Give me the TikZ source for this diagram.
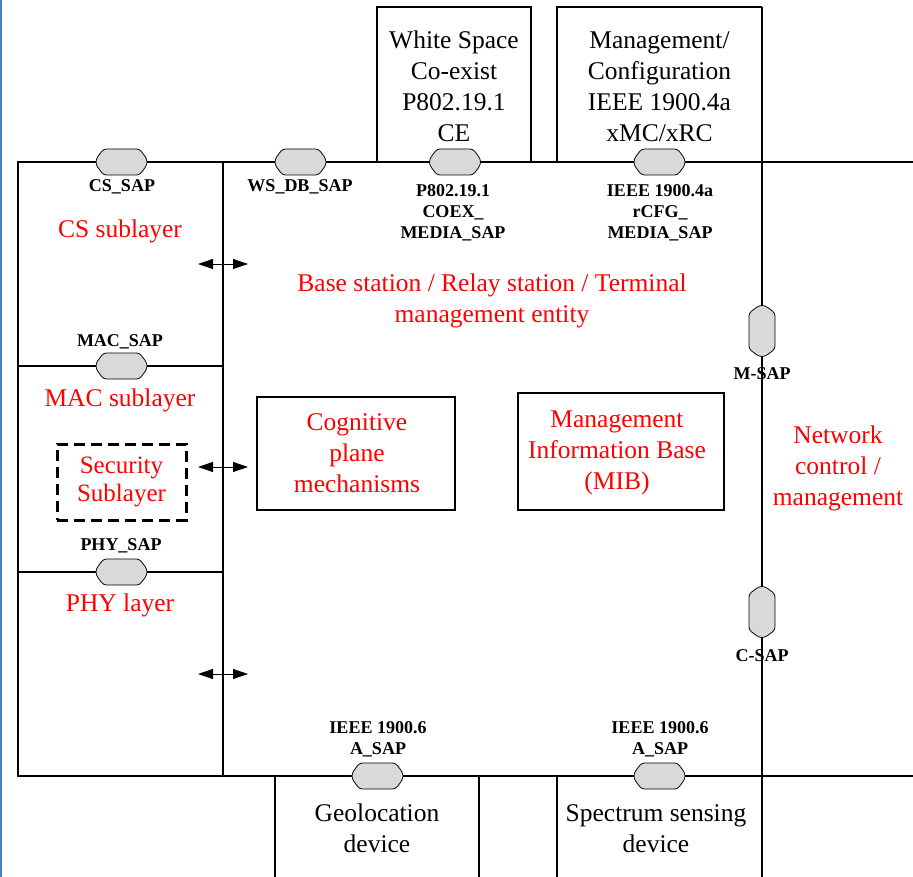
\documentclass[tikz,border=0pt]{standalone}
\usepackage{fontspec}
\setmainfont{Liberation Serif}
\usetikzlibrary{arrows.meta}
\definecolor{edgeblue}{RGB}{74,126,193}
\definecolor{sapgray}{RGB}{217,217,217}
\newcommand\sapH[2]{%
  \node[sapbox,minimum width=51pt,minimum height=26pt] (#1) at (#2) {};
  \draw[sapdraw,shift={(#2)}] (-25.5,-3) -- (-18,-13) -- (18,-13) -- (25.5,-3) -- (25.5,3) -- (18,13) -- (-18,13) -- (-25.5,3) -- cycle;}
\newcommand\sapV[2]{%
  \node[sapbox,minimum width=26pt,minimum height=51pt] (#1) at (#2) {};
  \draw[sapdraw,shift={(#2)}] (-3,-25.5) -- (-13,-18) -- (-13,18) -- (-3,25.5) -- (3,25.5) -- (13,18) -- (13,-18) -- (3,-25.5) -- cycle;}
\begin{document}
\begin{tikzpicture}[x=1pt,y=-1pt,
  frame/.style={draw=black,line width=1.1pt},
  box/.style={draw=black,line width=1.1pt,rectangle,inner sep=0pt},
  big/.style={font=\fontsize{25.5}{31}\selectfont,align=center,inner sep=0pt},
  redt/.style={big,text=red},
  saplbl/.style={font=\fontsize{18}{21}\selectfont\bfseries,align=center,inner sep=0pt},
  sapbox/.style={rectangle,draw=none,fill=none,inner sep=0pt},
  sapdraw/.style={fill=sapgray,draw=black,line width=0.8pt,rounded corners=3pt},
  biarrow/.style={line width=0.8pt,{Triangle[length=15pt,width=10pt]}-{Triangle[length=15pt,width=10pt]}}
]
\useasboundingbox (0,0) rectangle (913,877);
\fill[edgeblue] (0,0) rectangle (1.5,877);

% main frame
\draw[frame] (913,162) -- (18,162) -- (18,776) -- (913,776);
\draw[frame] (223,162) -- (223,776);
\draw[frame] (762,7) -- (762,877);
\draw[frame] (18,366) -- (223,366);
\draw[frame] (18,572) -- (223,572);

% top boxes
\draw[frame] (377,162) -- (377,7) -- (531,7) -- (531,162);
\draw[frame] (557,162) -- (557,7) -- (762,7);
\node[big] (ws) at (454,86.5) {White Space\\Co-exist\\P802.19.1\\CE};
\node[big] (mgmt) at (659.5,86.5) {Management/\\Configuration\\IEEE 1900.4a\\xMC/xRC};

% bottom boxes
\draw[frame] (275,877) -- (275,776);
\draw[frame] (479,877) -- (479,776);
\draw[frame] (557,877) -- (557,776);
\node[big] (geo) at (377,828.5) {Geolocation\\device};
\node[big] (spec) at (656,828.5) {Spectrum sensing\\device};

% SAPs
\sapH{cssap}{121.5,162}
\sapH{wssap}{300.5,162}
\sapH{coexsap}{455,162}
\sapH{rcfgsap}{659.5,162}
\sapH{macsap}{121.5,366}
\sapH{physap}{121.5,572}
\sapH{asapa}{377.5,776}
\sapH{asapb}{659.5,776}
\sapV{msap}{762,331}
\sapV{csap}{762,612}

% SAP labels
\node[saplbl] (lcs) at (122,187) {CS\_SAP};
\node[saplbl] (lws) at (300,187) {WS\_DB\_SAP};
\node[saplbl] (lcoex) at (453,213) {P802.19.1\\COEX\_\\MEDIA\_SAP};
\node[saplbl] (lrcfg) at (660,213) {IEEE 1900.4a\\rCFG\_\\MEDIA\_SAP};
\node[saplbl] (lmac) at (120,342) {MAC\_SAP};
\node[saplbl] (lphy) at (121,546) {PHY\_SAP};
\node[saplbl] (lm) at (762,374) {M-SAP};
\node[saplbl] (lc) at (762,656) {C-SAP};
\node[saplbl] (la1) at (378,739) {IEEE 1900.6\\A\_SAP};
\node[saplbl] (la2) at (660,739) {IEEE 1900.6\\A\_SAP};

% red texts
\node[redt] (cs) at (120,231) {CS sublayer};
\node[redt] (mac) at (120,400) {MAC sublayer};
\node[redt] (phy) at (120,605) {PHY layer};
\node[redt] (bs) at (492,300.5) {Base station / Relay station / Terminal\\management entity};
\node[redt] (net) at (838,468) {Network\\control /\\management};

% inner boxes
\node[rectangle,inner sep=0pt,draw=black,minimum width=129pt,minimum height=76pt,line width=3pt,dash pattern=on 11pt off 6pt] (sec) at (121.5,482) {};
\node[redt,font=\fontsize{25}{28}\selectfont] (sectext) at (121.5,482) {Security\\Sublayer};
\node[box,minimum width=198pt,minimum height=113pt] (cog) at (356,453.5) {};
\node[redt] (cogtext) at (357,453.5) {Cognitive\\plane\\mechanisms};
\node[box,minimum width=206pt,minimum height=117pt] (mib) at (621,451.5) {};
\node[redt] (mibtext) at (617,453) {Management\\Information Base\\(MIB)};

% double arrows
\coordinate (a1l) at (198,264); \coordinate (a1r) at (248,264);
\coordinate (a2l) at (198,467); \coordinate (a2r) at (248,467);
\coordinate (a3l) at (198,674); \coordinate (a3r) at (248,674);
\draw[biarrow] (a1l) -- (a1r);
\draw[biarrow] (a2l) -- (a2r);
\draw[biarrow] (a3l) -- (a3r);
\end{tikzpicture}
\end{document}
